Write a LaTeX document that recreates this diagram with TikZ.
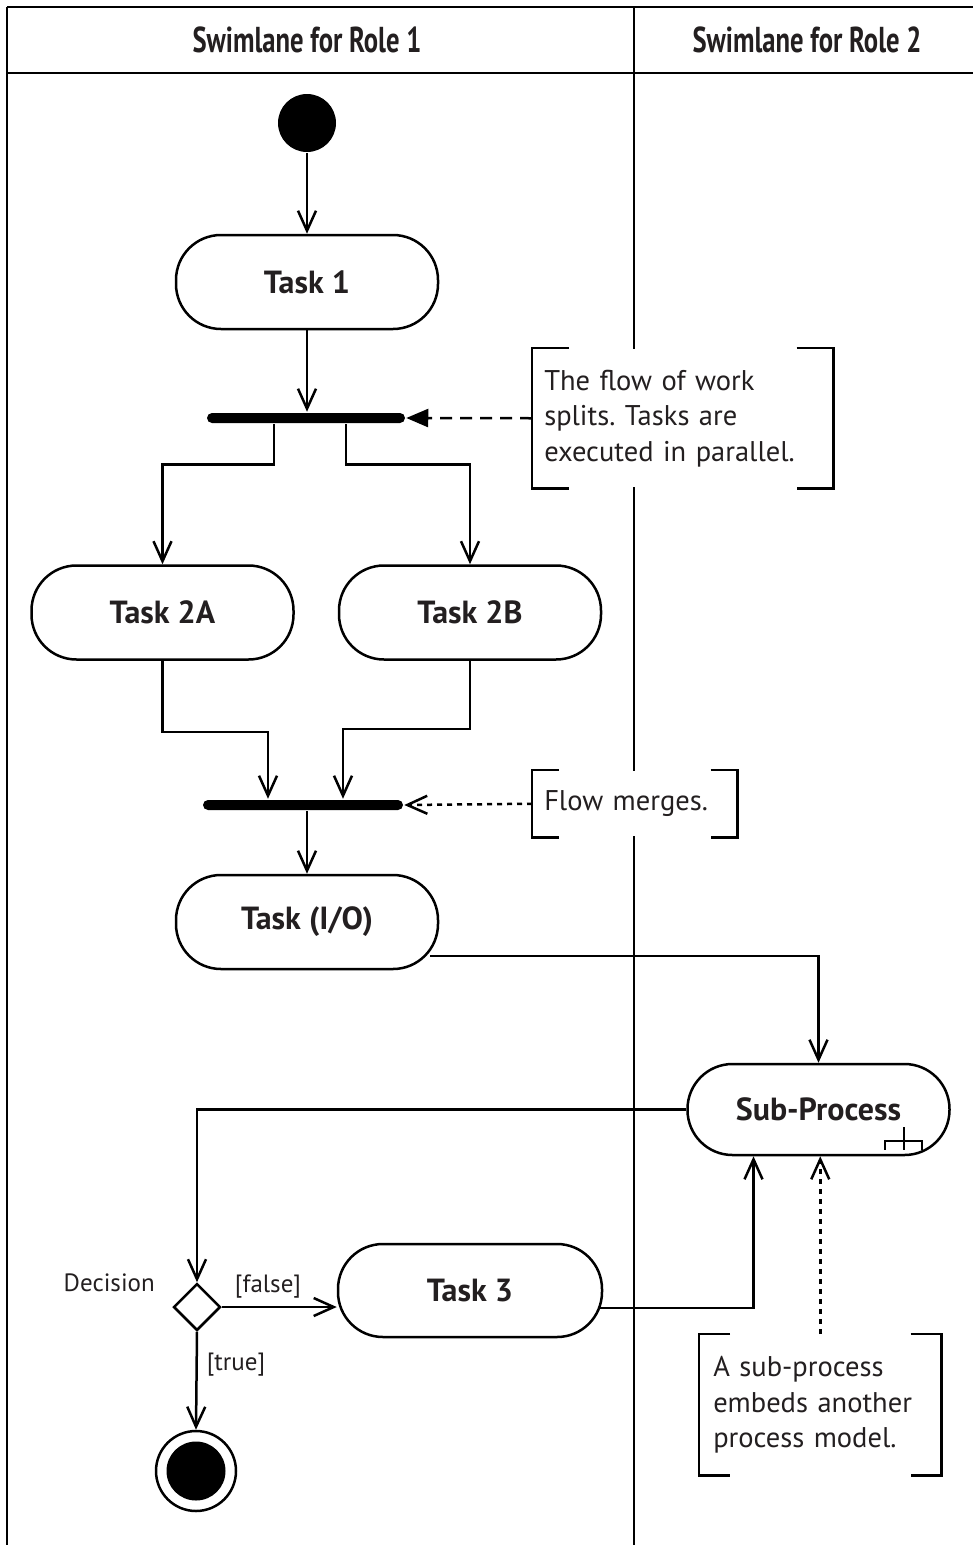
\documentclass[tikz,border=0pt]{standalone}
\usepackage{fontspec}
\setmainfont{PT Sans}
\usetikzlibrary{arrows.meta,shapes.geometric,calc}
\definecolor{ink}{RGB}{35,31,32}
\frenchspacing
\newcommand\notebrackets[2]{%
  \draw ([xshift=#2]#1.north west) -- (#1.north west) -- (#1.south west) -- ([xshift=#2]#1.south west);
  \draw ([xshift=-#2]#1.north east) -- (#1.north east) -- (#1.south east) -- ([xshift=-#2]#1.south east);}
\begin{document}
\begin{tikzpicture}[x=1pt,y=-1pt,line width=2.5pt,line join=miter,
  flow/.style={-{Straight Barb[length=20pt,width=18pt]}},
  dashflow/.style={-{Triangle[length=22pt,width=18pt]},dash pattern=on 12pt off 8pt},
  dotflow/.style={-{Straight Barb[length=20pt,width=18pt]},dash pattern=on 5pt off 5pt},
  task/.style={draw,fill=white,rounded corners=45pt,minimum width=262pt,minimum height=94pt,inner sep=0pt,
    text=ink,font=\fontsize{32}{38}\selectfont\bfseries},
  bar/.style={fill=black,rounded corners=5pt,minimum height=10pt,inner sep=0pt},
  note/.style={fill=white,anchor=north west,inner xsep=11pt,inner ysep=0pt,align=left,
    text=ink,font=\fontsize{28.5}{35.5}\selectfont},
  lbl/.style={text=ink,inner sep=0pt,font=\fontsize{25}{30}\selectfont},
  head/.style={text=ink,inner sep=0pt,font=\fontsize{36}{42}\selectfont\bfseries}]
\useasboundingbox (0,0) rectangle (973,1545);
% swimlane frame
\draw (7,7) -- (973,7);
\draw (7,73) -- (973,73);
\draw (7,7) -- (7,1545);
\draw (634,7) -- (634,1545);
\node[head] (h1) at (307,40) {\scalebox{0.74}[1]{Swimlane for Role 1}};
\node[head] (h2) at (807,40) {\scalebox{0.74}[1]{Swimlane for Role 2}};
% nodes
\node[circle,fill=black,minimum size=58pt,inner sep=0pt] (start) at (307,123) {};
\node[task] (t1) at (307,282) {Task 1};
\node[bar,minimum width=198pt] (fork) at (306,418) {};
\node[task] (t2a) at (162.5,612.5) {Task 2A};
\node[task] (t2b) at (470,612.5) {Task 2B};
\node[bar,minimum width=200pt] (join) at (303,805) {};
\node[task] (io) at (307,922) {Task (I/O)};
\node[task,minimum height=91pt] (sub) at (818.5,1109.5) {Sub-Process};
\node[diamond,draw,fill=white,minimum width=47pt,minimum height=47pt,inner sep=0pt] (dec) at (197,1307) {};
\node[task,minimum height=93pt,minimum width=264pt] (t3) at (470,1290.5) {Task 3};
\node[circle,draw,minimum size=80pt,inner sep=0pt] (final) at (196,1471) {};
\node[circle,fill=black,minimum size=59pt,inner sep=0pt] (finaldot) at (final.center) {};
% notes
\node[note,minimum width=299pt,minimum height=138pt,text width=277pt] (n1) at (532,348)
  {The flow of work\\splits. Tasks are\\executed in parallel.};
\notebrackets{n1}{37pt}
\node[note,minimum width=203pt,minimum height=65pt,text width=181pt] (n2) at (532,770) {Flow merges.};
\notebrackets{n2}{27pt}
\node[note,inner xsep=13pt,minimum width=240pt,minimum height=139pt,text width=214pt] (n3) at (699,1334)
  {A sub-process\\embeds another\\process model.};
\notebrackets{n3}{31pt}
% labels
\node[lbl,anchor=east] (ldec) at (156,1283) {Decision};
\node[lbl] (lfalse) at (268,1287) {[false]};
\node[lbl] (ltrue) at (236,1365) {[true]};
% sub-process icon
\draw[line width=2pt] ($(sub.center)+(66.5,40)$) -- ++(0,-9) -- ++(37,0) -- ++(0,9);
\draw[line width=2pt] ($(sub.center)+(85.5,40)$) -- ++(0,-23);
% connectors
\draw[flow] (start) -- (t1);
\draw[flow] (t1.south) -- (t1.south |- fork.north);
\draw[flow] ([xshift=-32pt]fork.south) -- ++(0,40) -| (t2a.north);
\draw[flow] ([xshift=40pt]fork.south) -- ++(0,40) -| (t2b.north);
\draw[flow] (t2a.south) -- ++(0,71) -| ([xshift=-35pt]join.north);
\draw[flow] (t2b.south) -- ++(0,68) -| ([xshift=40pt]join.north);
\draw[flow] (io.north |- join.south) -- (io.north);
\draw[flow] ($(io.east)+(-9,34)$) -| (sub.north);
\draw[flow] (sub.west) -| (dec.north);
\draw[flow] (dec.east) -- (dec.east -| t3.west);
\draw[flow] ($(t3.east)+(-3,17.5)$) -| ([xshift=-65pt]sub.south);
\draw[flow] (dec.south) -- (final.north);
\draw[dashflow] (n1.west) -- (fork.east);
\draw[dotflow] (n2.west) -- (join.east);
\draw[dotflow] (n3.north) -- (n3.north |- sub.south);
\end{tikzpicture}
\end{document}
